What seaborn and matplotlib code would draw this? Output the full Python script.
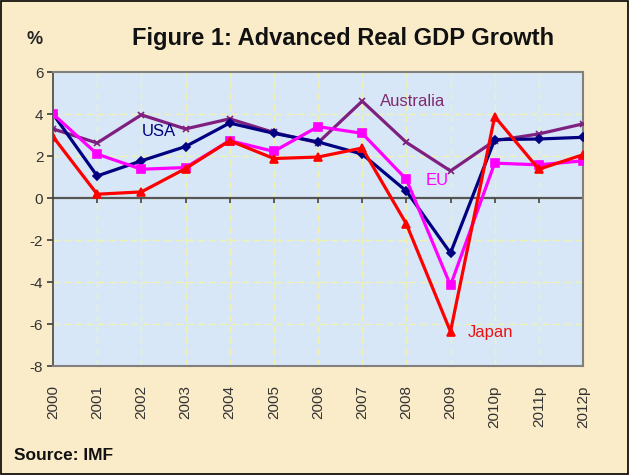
import matplotlib
matplotlib.use("Agg")
import matplotlib.pyplot as plt
import matplotlib.patches as patches
import numpy as np
import seaborn as sns

# Data (real GDP growth, %)
years = ['2000', '2001', '2002', '2003', '2004', '2005', '2006',
         '2007', '2008', '2009', '2010p', '2011p', '2012p']
usa = [4.0, 1.05, 1.77, 2.45, 3.57, 3.08, 2.67, 2.09, 0.33, -2.62, 2.78, 2.81, 2.89]
eu = [4.0, 2.09, 1.37, 1.45, 2.73, 2.22, 3.40, 3.08, 0.89, -4.16, 1.66, 1.58, 1.77]
japan = [2.92, 0.18, 0.29, 1.40, 2.73, 1.88, 1.95, 2.38, -1.23, -6.36, 3.88, 1.37, 2.06]
australia = [3.29, 2.62, 3.96, 3.29, 3.77, 3.12, 2.63, 4.61, 2.65, 1.29, 2.73, 3.05, 3.53]

series = {
    'Australia': (australia, '#7f1f7f', 'x', 5),
    'USA': (usa, '#000080', 'D', 4),
    'EU': (eu, '#ff00ff', 's', 6),
    'Japan': (japan, '#ff0000', '^', 6),
}

sns.set_theme(style='white')
plt.rcParams['font.family'] = ['Liberation Sans', 'DejaVu Sans']
plt.rcParams['axes.unicode_minus'] = False

fig = plt.figure(figsize=(6.29, 4.75), dpi=100)
fig.patch.set_facecolor('#fbecc9')
ax = fig.add_axes([53 / 629, 1 - 366 / 475, 530 / 629, 294 / 475])
ax.set_facecolor('#d7e7f7')

x = np.arange(len(years))
for name, (vals, color, marker, ms) in series.items():
    sns.lineplot(x=x, y=vals, ax=ax, color=color, linewidth=2.3, marker=marker,
                 markersize=ms, markeredgecolor=color, markeredgewidth=1.2, zorder=3)

ax.set_xlim(0, len(years) - 1)
ax.set_ylim(-8, 6)
ax.set_yticks(range(-8, 7, 2))
ax.set_xticks(x)
ax.set_xticklabels(years, rotation=90, fontsize=11, color='#333333')
ax.tick_params(axis='x', length=0, pad=14)
ax.tick_params(axis='y', labelsize=11, length=4, direction='out', left=True,
               color='#444444', labelcolor='#333333', pad=3)

# dashed pale yellow grid
ax.grid(True, color='#f2f2b0', linestyle=(0, (5, 3)), linewidth=1)
ax.set_axisbelow(True)

for s in ['top', 'right', 'bottom']:
    ax.spines[s].set_color('#808080')
    ax.spines[s].set_linewidth(1.5)
ax.spines['left'].set_color('#444444')
ax.spines['left'].set_linewidth(1.2)

# zero line with category tick marks
ax.axhline(0, color='#555555', linewidth=1.6, zorder=2)
ax.vlines(x[1:], -0.24, 0, color='#444444', linewidth=1.2, zorder=2)

# series labels
lbl = dict(fontsize=12, va='center')
ax.annotate('USA', xy=(2.4, 3.15), color='#000080', ha='center', **lbl)
ax.annotate('Australia', xy=(7.4, 4.6), color='#7f2a6f', ha='left', **lbl)
ax.annotate('EU', xy=(8.7, 0.85), color='#ff00ff', ha='center', **lbl)
ax.annotate('Japan', xy=(9.9, -6.4), color='#ee1111', ha='center', **lbl)

fig.text(35 / 629, 1 - 40 / 475, '%', fontsize=13, fontweight='bold', ha='center', va='center')
fig.text(343 / 629, 1 - 38 / 475, 'Figure 1: Advanced Real GDP Growth', fontsize=17,
         fontweight='bold', ha='center', va='center', color='#111111')
fig.text(14 / 629, 1 - 455 / 475, 'Source: IMF', fontsize=12.5, fontweight='bold',
         ha='left', va='center', color='#111111')

fig.patches.append(patches.Rectangle((0.002, 0.002), 0.996, 0.996, transform=fig.transFigure,
                                     fill=False, edgecolor='black', linewidth=1.2))

fig.savefig('out.png', dpi=100, facecolor=fig.get_facecolor())
